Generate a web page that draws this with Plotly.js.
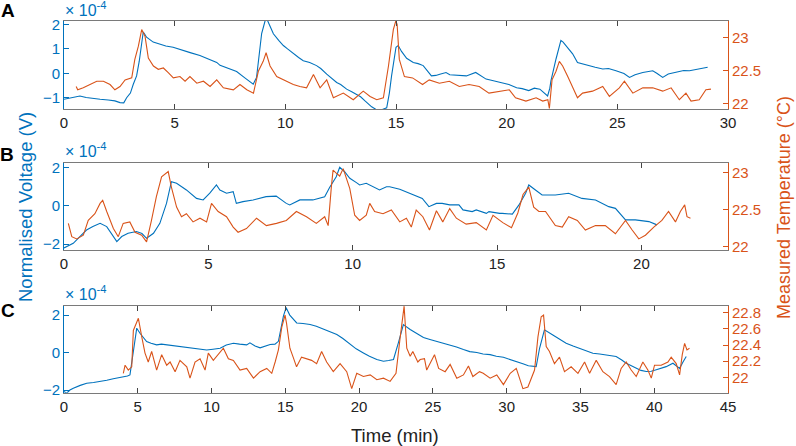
<!DOCTYPE html>
<html><head><meta charset="utf-8">
<script src="https://cdn.plot.ly/plotly-3.0.1.min.js"></script>
<style>html,body{margin:0;padding:0;background:#fff}#c{width:796px;height:446px}</style>
</head><body><div id="c"></div>
<script>
// ---------- Panel A ----------
const tA_v = [0,0.3,0.72,1.0,1.3,1.63,2.0,2.3,2.53,2.7,2.83,3.0,3.13,3.28,3.4,3.51,3.58,3.65,3.73,4.03,4.3,4.6,4.93,5.3,5.7,6.14,6.5,6.9,7.05,7.4,7.8,8.2,8.55,8.7,8.8,8.93,9.08,9.15,9.3,9.46,9.7,9.91,10.1,10.36,10.6,10.81,11.1,11.41,11.6,11.87,12.1,12.32,12.5,12.77,13.0,13.2,13.4,13.6,13.9,14.1,14.3,14.58,14.7,14.8,14.9,15.0,15.1,15.25,15.48,15.78,16.0,16.23,16.6,16.8,16.98,17.26,17.43,17.8,18.18,18.6,18.94,19.07,19.4,19.8,20.1,20.45,20.7,21.0,21.25,21.5,21.7,21.85,21.95,22.0,22.23,22.45,22.55,22.68,22.98,23.2,23.45,23.73,24.0,24.34,24.6,24.94,25.3,25.55,25.8,26.15,26.6,26.8,27.05,27.3,27.65,28.0,28.26,28.5,28.7,28.9,29.08];
const vA = [-1.05,-1.0,-0.92,-0.98,-1.02,-1.05,-1.08,-1.12,-1.19,-1.2,-0.99,-0.8,-0.44,-0.1,0.5,1.21,1.69,1.6,1.48,1.28,1.2,1.12,1.07,0.95,0.85,0.73,0.6,0.45,0.33,0.22,0.08,-0.2,-0.44,-0.16,0.6,1.63,2.13,2.25,1.95,1.62,1.35,1.14,1.0,0.8,0.65,0.52,0.45,0.32,0.2,-0.03,-0.2,-0.37,-0.45,-0.64,-0.75,-0.85,-0.95,-1.12,-1.36,-1.47,-1.5,-1.4,-0.8,-0.1,0.6,1.07,1.14,0.9,0.62,0.45,0.4,0.32,-0.1,-0.08,-0.03,0.04,-0.05,-0.08,-0.1,0.04,-0.18,-0.23,-0.3,-0.37,-0.45,-0.58,-0.62,-0.7,-0.6,-0.64,-0.8,-0.92,-0.6,-0.3,0.59,1.35,1.28,1.14,0.8,0.45,0.38,0.32,0.25,0.18,0.2,0.11,0.0,-0.16,-0.05,0.04,0.11,0.0,-0.16,-0.02,0.04,0.12,0.11,0.15,0.18,0.2,0.25];
const tA_T = [0.55,0.62,0.87,1.17,1.48,1.78,2.08,2.3,2.53,2.76,3.06,3.2,3.36,3.51,3.66,3.81,4.04,4.26,4.49,4.71,4.94,5.24,5.47,5.69,6.0,6.3,6.6,6.9,7.2,7.65,7.95,8.26,8.56,8.78,9.0,9.13,9.31,9.61,10.06,10.36,10.66,10.96,11.27,11.57,11.87,12.17,12.62,13.07,13.52,13.83,14.13,14.43,14.66,14.88,14.99,15.05,15.15,15.38,15.75,16.2,16.5,16.96,17.41,17.86,18.3,18.76,19.2,19.67,20.12,20.4,20.87,21.33,21.63,21.86,21.93,22.05,22.23,22.38,22.53,22.76,22.98,23.2,23.43,23.88,24.34,24.64,25.09,25.32,25.7,26.15,26.6,27.05,27.43,27.8,28.1,28.33,28.7,29.0,29.23];
const TA = [22.26,22.21,22.24,22.29,22.34,22.34,22.29,22.21,22.26,22.36,22.39,22.67,22.87,23.12,23.02,22.69,22.57,22.52,22.54,22.47,22.39,22.41,22.34,22.41,22.31,22.34,22.26,22.36,22.24,22.21,22.29,22.21,22.16,22.49,22.64,22.77,22.57,22.41,22.34,22.29,22.26,22.24,22.44,22.24,22.36,22.09,22.16,22.06,22.19,22.11,22.06,22.09,22.57,23.12,23.25,23.2,22.67,22.41,22.39,22.29,22.36,22.31,22.34,22.26,22.29,22.26,22.16,22.19,22.21,22.09,22.04,22.09,22.04,22.06,21.93,22.36,22.49,22.64,22.57,22.41,22.26,22.09,22.16,22.19,22.26,22.11,22.24,22.34,22.16,22.24,22.24,22.19,22.24,22.06,22.16,22.04,22.06,22.21,22.22];

// ---------- Panel B ----------
const tB_v = [0,0.09,0.32,0.55,0.78,1.0,1.25,1.48,1.65,1.83,2.0,2.22,2.51,2.7,2.86,3.1,3.32,3.55,3.72,3.9,4.24,4.59,4.82,5.05,5.28,5.4,5.63,5.86,5.97,6.2,6.55,7.0,7.35,7.7,7.82,8.17,8.4,8.62,9.03,9.2,9.43,9.55,9.72,9.9,10.13,10.24,10.47,10.82,10.93,11.17,11.28,11.63,11.95,12.09,12.41,12.64,12.9,13.1,13.36,13.68,13.82,14.14,14.28,14.63,14.72,15.09,15.18,15.53,15.76,15.99,16.1,16.33,16.56,17.02,17.48,17.94,18.41,18.87,19.1,19.45,19.79,20.26,20.54];
const vB = [-2.2,-2.13,-1.96,-1.61,-1.27,-1.09,-0.92,-1.09,-1.44,-1.87,-1.61,-1.44,-1.35,-1.45,-1.7,-1.44,-0.92,0.12,1.25,1.17,0.82,0.38,0.3,0.65,1.08,0.82,0.65,0.73,0.12,0.21,0.3,0.47,0.5,0.12,0.04,0.3,0.3,0.3,0.47,0.95,1.51,2.0,1.77,1.43,1.2,1.08,1.17,0.9,0.82,0.99,0.99,0.86,0.65,0.56,0.38,-0.05,0.12,0.12,0.04,0.04,-0.22,-0.31,-0.22,-0.4,-0.31,-0.4,-0.4,-0.44,0.04,0.65,1.08,0.82,0.56,0.56,0.65,0.38,0.3,-0.05,-0.14,-0.74,-0.74,-0.83,-1.0];
const tB_T = [0.15,0.27,0.44,0.67,0.84,1.07,1.25,1.34,1.48,1.71,1.88,2.05,2.28,2.46,2.69,2.86,3.03,3.2,3.38,3.61,3.72,3.9,4.07,4.24,4.47,4.71,4.94,5.11,5.34,5.63,5.86,6.03,6.32,6.67,7.01,7.36,7.7,8.05,8.4,8.74,9.03,9.15,9.26,9.32,9.43,9.55,9.67,9.9,10.07,10.24,10.47,10.59,10.76,11.05,11.34,11.63,11.86,12.03,12.2,12.43,12.66,12.9,13.12,13.36,13.59,13.93,14.28,14.63,14.86,15.2,15.5,15.72,15.9,16.1,16.27,16.45,16.68,17.02,17.26,17.48,17.78,18.06,18.41,18.75,19.1,19.45,19.68,19.91,20.14,20.43,20.71,20.94,21.18,21.35,21.5,21.58,21.7];
const TB = [22.31,22.13,22.1,22.15,22.35,22.44,22.58,22.62,22.47,22.24,22.13,22.31,22.33,22.19,22.15,22.06,22.35,22.67,22.94,23.01,22.8,22.53,22.4,22.44,22.33,22.38,22.33,22.58,22.47,22.4,22.26,22.19,22.24,22.38,22.28,22.31,22.35,22.47,22.4,22.31,22.4,22.28,22.8,23.03,22.99,22.95,23.05,22.78,22.42,22.35,22.42,22.58,22.47,22.44,22.49,22.33,22.38,22.26,22.49,22.4,22.22,22.48,22.33,22.51,22.38,22.3,22.32,22.22,22.42,22.32,22.25,22.45,22.7,22.8,22.53,22.47,22.47,22.28,22.26,22.4,22.35,22.22,22.28,22.28,22.17,22.35,22.22,22.1,22.15,22.26,22.35,22.47,22.33,22.47,22.56,22.4,22.38];

// ---------- Panel C ----------
const tC_v = [0,0.18,0.4,0.63,1.1,1.54,2.0,2.44,2.9,3.34,3.7,4.02,4.3,4.47,4.7,4.93,5.15,5.6,5.9,6.28,6.6,6.96,7.4,7.86,8.3,8.77,9.2,9.67,10.1,10.58,11.0,11.48,11.9,12.38,12.6,12.95,13.29,13.6,13.97,14.3,14.53,14.87,15.05,15.3,15.77,16.2,16.68,17.1,17.58,18.0,18.49,18.9,19.39,19.8,20.29,20.7,21.2,21.65,22.0,22.33,22.66,23.0,23.46,23.9,24.36,24.8,25.27,25.7,26.17,26.6,27.07,27.5,27.98,28.4,28.88,29.3,29.78,30.2,30.69,31.1,31.47,32.0,32.23,32.56,33.13,33.6,34.03,34.5,34.94,35.4,35.84,36.3,36.75,37.1,37.42,37.8,38.1,38.45,38.78,39.1,39.46,39.8,40.14,40.5,40.81,41.27,41.5,41.72,41.95,42.17];
const vC = [-2.08,-2.17,-2.0,-1.9,-1.75,-1.64,-1.6,-1.55,-1.48,-1.4,-1.35,-1.28,-1.25,-1.19,0.14,1.3,1.03,0.59,0.5,0.41,0.45,0.41,0.36,0.32,0.3,0.23,0.2,0.14,0.18,0.23,0.4,0.5,0.45,0.41,0.52,0.35,0.25,0.35,0.43,0.45,0.6,1.94,2.4,2.0,1.58,1.55,1.5,1.4,1.25,1.15,0.96,0.75,0.45,0.2,-0.02,-0.2,-0.37,-0.46,-0.42,-0.37,0.52,1.49,1.23,1.0,0.8,0.7,0.6,0.5,0.43,0.3,0.16,0.05,0.0,-0.08,-0.11,-0.2,-0.25,-0.35,-0.5,-0.6,-0.7,-0.75,0.23,1.21,0.94,0.7,0.5,0.35,0.23,0.1,-0.04,-0.08,-0.12,-0.15,-0.21,-0.4,-0.57,-0.7,-0.84,-0.95,-1.01,-1.0,-0.92,-0.85,-0.75,-0.57,-0.7,-0.84,-0.5,-0.21];
const tC_T = [4.02,4.14,4.36,4.59,4.7,4.93,5.04,5.27,5.49,5.71,5.94,6.28,6.62,6.96,7.19,7.53,7.86,8.32,8.54,8.88,9.22,9.56,9.78,10.12,10.46,10.8,11.14,11.48,11.93,12.38,12.84,13.29,13.74,14.08,14.31,14.53,14.76,14.98,15.08,15.31,15.53,15.76,16.1,16.44,16.78,17.12,17.46,17.8,18.25,18.71,19.16,19.5,19.84,20.29,20.75,21.2,21.65,22.1,22.5,22.78,22.96,23.05,23.23,23.46,23.64,23.98,24.14,24.43,24.58,24.92,25.11,25.39,25.83,26.17,26.35,26.62,27.07,27.41,27.71,28.16,28.41,28.88,29.33,29.78,30.24,30.65,30.87,31.1,31.44,31.67,31.89,32.12,32.34,32.5,32.68,32.9,33.24,33.58,33.92,34.37,34.83,35.28,35.62,36.07,36.52,36.97,37.42,37.76,38.1,38.44,38.78,39.23,39.57,39.8,40.02,40.47,40.93,41.15,41.49,41.72,41.9,42.06,42.22,42.39];
const TC = [22.05,22.15,22.09,22.13,22.58,22.67,22.73,22.5,22.3,22.19,22.32,22.09,22.28,22.15,22.19,22.07,22.21,22.13,21.99,22.19,22.23,22.09,22.3,22.21,22.28,22.36,22.23,22.21,22.09,22.11,21.99,22.07,22.11,22.05,22.19,22.34,22.62,22.77,22.67,22.36,22.25,22.13,22.25,22.23,22.21,22.17,22.32,22.19,22.07,22.17,22.07,21.86,22.05,22.01,22.03,21.97,21.99,21.95,22.05,22.49,22.73,22.88,22.36,22.26,22.32,22.19,22.22,22.23,22.09,22.22,22.28,22.11,22.07,22.16,22.09,21.99,22.03,22.14,22.01,22.07,22.05,21.99,22.03,21.91,22.05,22.11,21.99,21.86,21.88,21.99,22.09,22.5,22.75,22.77,22.38,22.32,22.17,22.25,22.07,22.13,22.05,22.19,22.05,22.21,22.07,22.01,21.91,22.11,22.19,22.09,22.01,22.19,22.09,21.99,22.15,22.15,22.19,22.25,22.17,22.03,22.28,22.42,22.34,22.36];

// tick labels
const xTicksA = [0,5,10,15,20,25,30];
const xTicksB = [0,5,10,15,20];
const xTicksC = [0,5,10,15,20,25,30,35,40,45];
const vTicksA = [-1,0,1,2];
const vTicksBC = [-2,0,2];
const TTicksAB = [22,22.5,23];
const TTicksC = [22,22.2,22.4,22.6,22.8];

const W=796,H=446;
const blue='#0072BD', orange='#D95319', gray='#7a7a7a';
const fnt='Liberation Sans, Arial, sans-serif';
const xd=[64/W,728/W];
const dom=(top,bot)=>[1-bot/H,1-top/H];

function line(x,y,c,xa,ya){return {x:x,y:y,type:'scatter',mode:'lines',line:{color:c,width:1.1},xaxis:xa,yaxis:ya,hoverinfo:'skip'};}
const data=[
 line(tA_v,vA,blue,'x','y'), line(tA_T,TA,orange,'x','y2'),
 line(tB_v,vB,blue,'x2','y3'), line(tB_T,TB,orange,'x2','y4'),
 line(tC_v,vC,blue,'x3','y5'), line(tC_T,TC,orange,'x3','y6')
];
function xax(range,tv,anchor){return {domain:xd,range:range,tickvals:tv,anchor:anchor,showline:true,linecolor:gray,linewidth:1,mirror:'ticks',ticks:'inside',ticklen:5,tickcolor:'#444',showgrid:false,zeroline:false,tickfont:{family:fnt,size:15,color:'#222'}};}
function yl(d,range,tv,anchor){return {domain:d,range:range,tickvals:tv,anchor:anchor,showline:true,linecolor:blue,linewidth:1,ticks:'inside',ticklen:5,tickcolor:blue,showgrid:false,zeroline:false,tickfont:{family:fnt,size:15,color:blue}};}
function yr(over,range,tv,anchor){return {overlaying:over,side:'right',range:range,tickvals:tv,anchor:anchor,showline:true,linecolor:orange,linewidth:1,ticks:'inside',ticklen:5,tickcolor:orange,showgrid:false,zeroline:false,tickfont:{family:fnt,size:15,color:orange}};}

const dA=dom(21,109), dB=dom(162.7,250), dC=dom(305.7,392.7);
function ann(px,py,text,opt){return Object.assign({xref:'paper',yref:'paper',x:px/W,y:1-py/H,text:text,showarrow:false,xanchor:'center',yanchor:'middle'},opt);}
const annotations=[
 ann(8,11,'<b>A</b>',{font:{family:fnt,size:19,color:'#000'}}),
 ann(7,154,'<b>B</b>',{font:{family:fnt,size:19,color:'#000'}}),
 ann(8,310,'<b>C</b>',{font:{family:fnt,size:19,color:'#000'}}),
 ann(63,21,'× 10<sup>-4</sup>',{xanchor:'left',yanchor:'bottom',font:{family:fnt,size:16,color:blue}}),
 ann(63,162,'× 10<sup>-4</sup>',{xanchor:'left',yanchor:'bottom',font:{family:fnt,size:16,color:blue}}),
 ann(63,305,'× 10<sup>-4</sup>',{xanchor:'left',yanchor:'bottom',font:{family:fnt,size:16,color:blue}}),
 ann(25,207,'Normalised Voltage (V)',{textangle:-90,font:{family:fnt,size:18.5,color:blue}}),
 ann(784,208,'Measured Temperature (°C)',{textangle:-90,font:{family:fnt,size:18,color:orange}}),
 ann(395,435,'Time (min)',{font:{family:fnt,size:18.5,color:'#222'}})
];
const layout={
 width:W,height:H,margin:{l:0,r:0,t:0,b:0},paper_bgcolor:'#fff',plot_bgcolor:'#fff',showlegend:false,
 xaxis:xax([0,30],xTicksA,'y'),
 xaxis2:xax([0,23],xTicksB,'y3'),
 xaxis3:xax([0,45],xTicksC,'y5'),
 yaxis:yl(dA,[-1.45,2.14],vTicksA,'x'),
 yaxis2:yr('y',[21.92,23.25],TTicksAB,'x'),
 yaxis3:yl(dB,[-2.31,2.24],vTicksBC,'x2'),
 yaxis4:yr('y3',[21.95,23.13],TTicksAB,'x2'),
 yaxis5:yl(dC,[-2.14,2.5],vTicksBC,'x3'),
 yaxis6:yr('y5',[21.81,22.886],TTicksC,'x3'),
 annotations:annotations
};
Plotly.newPlot('c',data,layout,{staticPlot:true,displayModeBar:false});
</script></body></html>
